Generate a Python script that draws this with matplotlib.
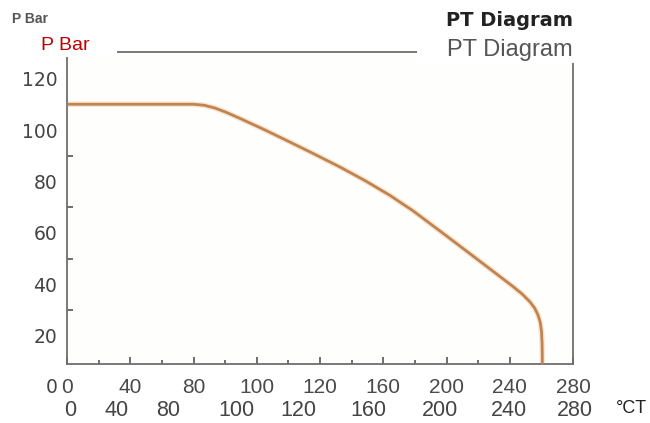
import matplotlib
matplotlib.use('Agg')
import matplotlib.pyplot as plt
import matplotlib.transforms as mtransforms
from matplotlib.patches import Rectangle

# curve (temperature, pressure)
temp = [0, 70, 76, 82, 88, 95.7, 109, 123.4, 137, 151.1, 165, 178.7, 191.5, 210.3, 228.5, 246.8,
        252, 256.2, 258.8, 260.6, 261.9, 262.6, 262.9, 263.0, 263.0]
pres = [110, 110, 109.6, 108.5, 106.9, 104.5, 100.2, 95.3, 90.6, 85.6, 80.3, 74.6, 68.6, 58.7, 49.0, 39.2,
        36.2, 33.2, 30.8, 28.2, 25.2, 21.5, 17, 12, 0]

x_major = [0, 35, 70, 105, 140, 175, 210, 245, 280]
x_labels = ['0', '40', '80', '100', '120', '160', '200', '240', '280']
y_ticks = [20, 40, 60, 80, 100, 120]
y_minor = [30, 50, 70, 90]
# second (overlaid) row of x labels
x2_pos = [1.7, 27.7, 55.9, 93.5, 127.8, 166.6, 206.4, 244.5, 281.0]
x2_labels = ['0', '40', '80', '100', '120', '160', '200', '240', '280']

W, H = 650, 423
fig = plt.figure(figsize=(W / 100, H / 100), dpi=100)
fig.patch.set_facecolor('white')
ax = fig.add_axes([67 / W, 1 - 364 / H, (573 - 67) / W, (364 - 52) / H])
ax.set_facecolor('#fefefd')

ax.plot(temp, pres, color='#f8e6d2', lw=4, solid_capstyle='butt', zorder=2)
ax.plot(temp, pres, color='#c08450', lw=2, solid_capstyle='butt', solid_joinstyle='round', zorder=3)

ax.set_xlim(0, 280)
ax.set_ylim(9.1, 130.3)

for s in ax.spines.values():
    s.set_color('#6e6e6e')
    s.set_linewidth(1.3)

ax.set_xticks(x_major)
ax.set_xticklabels(x_labels)
ax.set_xticks([17.5 + 35 * i for i in range(8)], minor=True)
ax.tick_params(axis='x', which='major', direction='in', length=5, width=1.2, color='#555555',
               pad=10, labelsize=15, labelcolor='#4a4a4a')
ax.tick_params(axis='x', which='minor', direction='in', length=3, width=1.2, color='#555555')
for lab in ax.get_xticklabels():
    lab.set_family('Liberation Sans')

ax.set_yticks(y_ticks)
ax.set_yticks(y_minor, minor=True)
ax.tick_params(axis='y', which='major', length=0, pad=7, labelsize=13.5, labelcolor='#444444')
ax.tick_params(axis='y', which='minor', direction='in', length=4, width=1.2, color='#555555')

# "0" on the y axis sits below the plot
trans_y = mtransforms.blended_transform_factory(ax.transAxes, ax.transData)
ax.text(-0.019, 0, '0', transform=trans_y, ha='right', va='center', fontsize=13.5,
        color='#444444', clip_on=False)

# overlaid lower row of x labels
trans_x = mtransforms.blended_transform_factory(ax.transData, fig.transFigure)
for p, lab in zip(x2_pos, x2_labels):
    ax.text(p, 1 - 410 / H, lab, transform=trans_x, ha='center', va='center',
            fontsize=15.5, family='Liberation Sans', color='#444444', clip_on=False)
fig.text(631 / W, 1 - 408 / H, '°CT', ha='center', va='center', fontsize=13,
         family='Liberation Sans', color='#222222')

# original headings
fig.text(12 / W, 1 - 19 / H, 'P Bar', ha='left', va='center', fontsize=10,
         fontweight='bold', family='Liberation Sans', color='#555555')
fig.text(573 / W, 1 - 21 / H, 'PT Diagram', ha='right', va='center', fontsize=14,
         fontweight='bold', family='DejaVu Sans', color='#222222')

# white boxes with the overlaid headings
fig.patches.append(Rectangle((10 / W, 1 - 57 / H), 107 / W, 22 / H, transform=fig.transFigure,
                             facecolor='white', edgecolor='none', zorder=5))
fig.patches.append(Rectangle((417 / W, 1 - 63 / H), 186 / W, 30 / H, transform=fig.transFigure,
                             facecolor='white', edgecolor='none', zorder=5))
fig.text(65 / W, 1 - 46 / H, 'P Bar', ha='center', va='center', fontsize=14,
         family='Liberation Sans', color='#c00000', zorder=6)
fig.text(510 / W, 1 - 50 / H, 'PT Diagram', ha='center', va='center', fontsize=17,
         family='Liberation Sans', color='#555555', zorder=6)

fig.savefig('out.png', dpi=100)
